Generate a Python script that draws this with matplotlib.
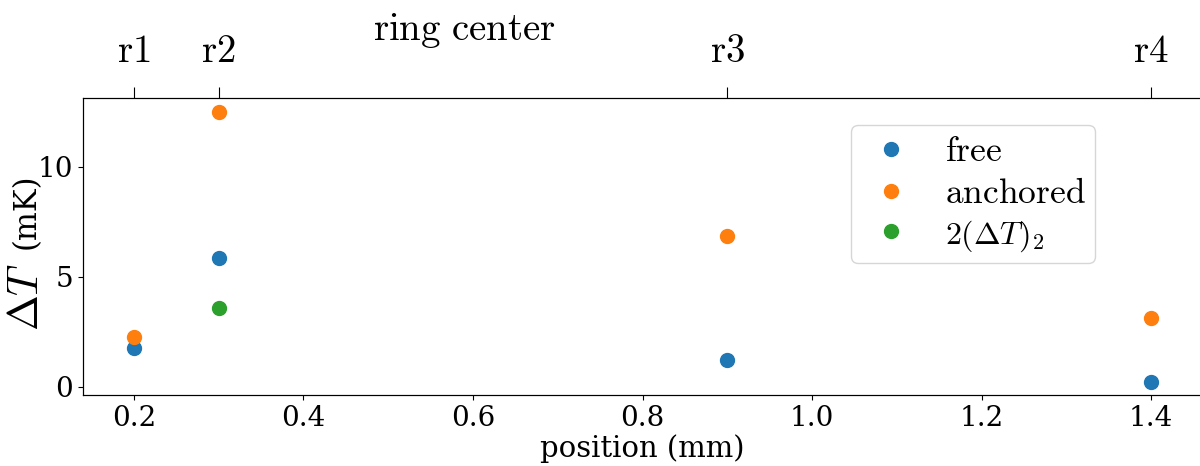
import matplotlib
matplotlib.use("Agg")
import matplotlib.pyplot as plt

plt.rcParams["font.family"] = "DejaVu Serif"
plt.rcParams["mathtext.fontset"] = "cm"

# Positions along the sample (mm) and temperature rise (mK)
position_free = [0.2, 0.3, 0.9, 1.4]
dT_free = [1.74, 5.85, 1.19, 0.23]

position_anchored = [0.2, 0.3, 0.9, 1.4]
dT_anchored = [2.24, 12.5, 6.85, 3.1]

position_twice = [0.3]
dT_twice = [3.56]

# Ring positions marked on the top axis
ring_positions = [0.2, 0.3, 0.9, 1.4]
ring_labels = [r"$\mathrm{r1}$", r"$\mathrm{r2}$", r"$\mathrm{r3}$", r"$\mathrm{r4}$"]

fig = plt.figure(figsize=(12, 4.66), dpi=100)
ax = fig.add_axes([83 / 1200, 1 - 395 / 466, (1202 - 83) / 1200, (395 - 98) / 466])

ax.plot(position_free, dT_free, "o", ms=10, color="#1f77b4", label=r"$\mathrm{free}$")
ax.plot(position_anchored, dT_anchored, "o", ms=10, color="#ff7f0e", label=r"$\mathrm{anchored}$")
ax.plot(position_twice, dT_twice, "o", ms=10, color="#2ca02c", label=r"$2(\Delta T)_2$")

ax.set_xticks([0.2, 0.4, 0.6, 0.8, 1.0, 1.2, 1.4])
ax.set_yticks([0, 5, 10])
ax.tick_params(labelsize=20)
ax.set_xlabel("position (mm)", fontsize=21, labelpad=2)
ax.spines["right"].set_visible(False)

# y label: larger math symbol followed by the unit
ax.text(-0.051, 0.33, r"$\Delta T$", transform=ax.transAxes, rotation=90,
        fontsize=31, ha="center", va="center")
ax.text(-0.051, 0.62, "(mK)", transform=ax.transAxes, rotation=90,
        fontsize=22, ha="center", va="center")

ax2 = ax.twiny()
ax2.set_xlim(ax.get_xlim())
ax2.set_xticks(ring_positions)
ax2.set_xticklabels(ring_labels)
ax2.tick_params(labelsize=28, length=8, pad=12)
ax2.spines["right"].set_visible(False)
ax2.set_title(r"$\mathrm{ring\ center}$", fontsize=28, x=0.341, y=1.0, pad=42)

leg = ax.legend(loc="upper left", bbox_to_anchor=(0.686, 0.909), borderaxespad=0,
                fontsize=25.5, handlelength=1.75, handletextpad=0.66,
                labelspacing=0.23, borderpad=0.26)
leg.get_texts()[2].set_fontsize(23)

fig.savefig("out.png", dpi=100)
